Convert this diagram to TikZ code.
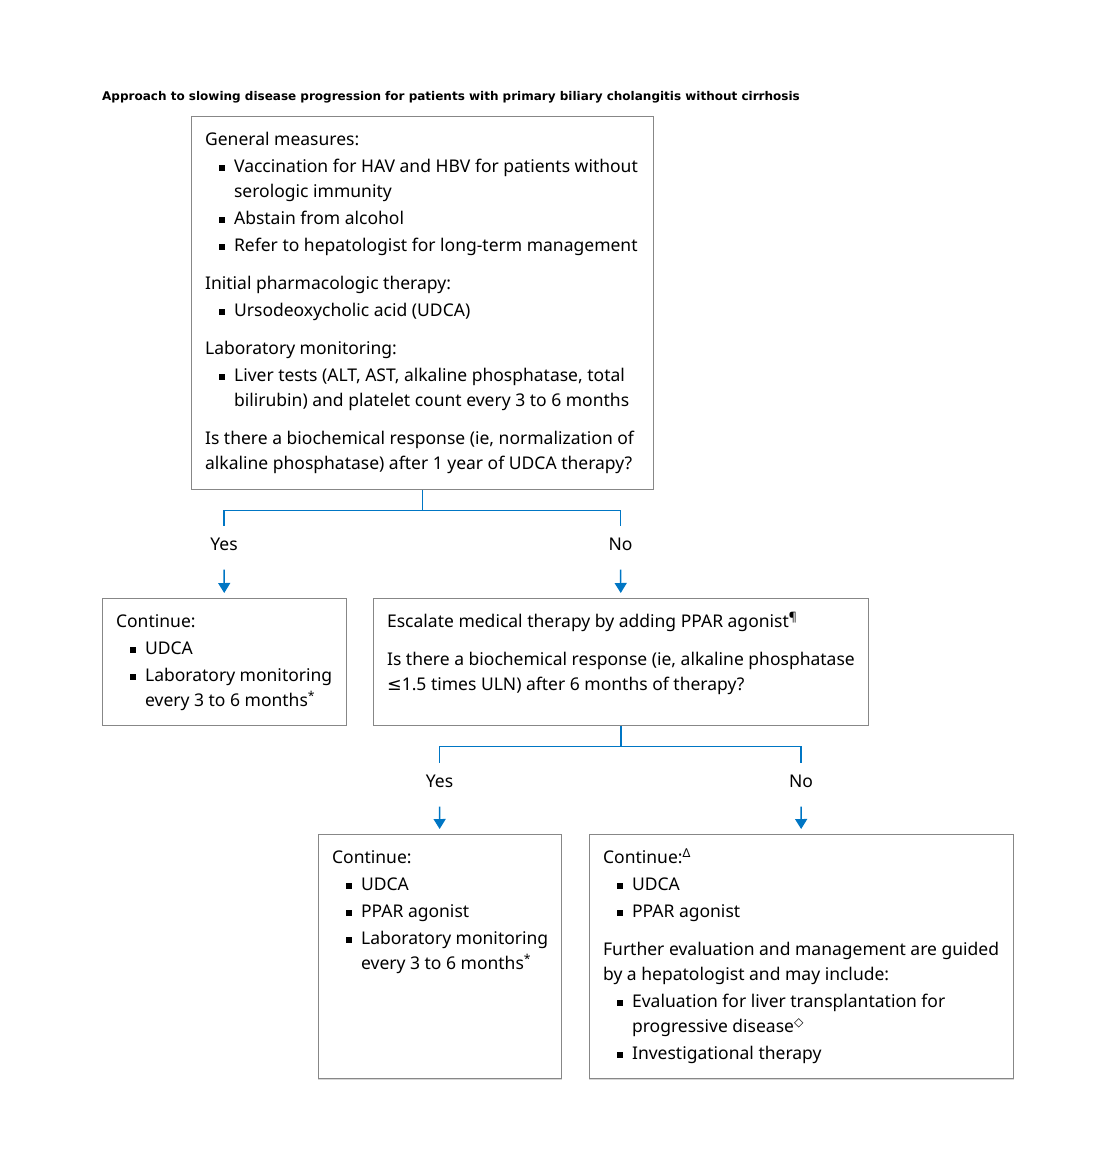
\documentclass[tikz,border=0pt]{standalone}
\usepackage{fontspec}
\setmainfont{Noto Sans}
\newfontfamily\titlefont{DejaVu Sans}
\newfontfamily\symfont{DejaVu Sans}
\usetikzlibrary{arrows.meta}

\definecolor{flowblue}{RGB}{0,118,196}
\definecolor{boxgray}{RGB}{135,135,135}
\definecolor{edgegray}{RGB}{215,215,215}

% bullet item, section gap, top-aligned box text
\newcommand{\bul}{\par\noindent\hangindent=29pt\hangafter=1\hspace*{14pt}\makebox[15pt][l]{\rule[2pt]{6pt}{6pt}}}
\newcommand{\sect}{\par\vspace{11pt}\noindent}
\newcommand{\boxtext}[3]{\makebox[#1][l]{\parbox[c][#2][t]{\dimexpr#1+40pt\relax}{\raggedright\setlength{\parskip}{2pt}\rule{0pt}{29pt}#3}}}

\begin{document}
\begin{tikzpicture}[x=1pt,y=-1pt,
    box/.style={draw=boxgray, line width=1.2pt, anchor=north west, inner xsep=13.5pt, inner ysep=0pt,
      font=\fontsize{17.5pt}{25pt}\selectfont},
    lab/.style={font=\fontsize{17.5pt}{25pt}\selectfont, text height=12pt, text depth=3pt, inner xsep=0pt, inner ysep=12pt},
    link/.style={draw=flowblue, line width=1.4pt},
    arr/.style={link, -{Triangle[length=10pt,width=12pt]}, shorten <=4pt, shorten >=5pt}]
  \useasboundingbox (0,0) rectangle (1104,1153);
  % title
  \node[anchor=base west, inner sep=0pt, font=\titlefont\bfseries\fontsize{12pt}{14pt}\selectfont] (title) at (102,100.5)
    {Approach to slowing disease progression for patients with primary biliary cholangitis without cirrhosis};
  % boxes
  \node[box] (general) at (191,116) {\boxtext{435pt}{373pt}{General measures:
    \bul Vaccination for HAV and HBV for patients without\newline serologic immunity
    \bul Abstain from alcohol
    \bul Refer to hepatologist for long-term management
    \sect Initial pharmacologic therapy:
    \bul Ursodeoxycholic acid (UDCA)
    \sect Laboratory monitoring:
    \bul Liver tests (ALT, AST, alkaline phosphatase, total\newline bilirubin) and platelet count every 3 to 6 months
    \sect Is there a biochemical response (ie, normalization of\newline alkaline phosphatase) after 1 year of UDCA therapy?}};
  \node[box] (contA) at (102,598) {\boxtext{217pt}{127pt}{Continue:
    \bul UDCA
    \bul Laboratory monitoring\newline every 3 to 6 months\textsuperscript{*}}};
  \node[box] (escalate) at (373,598) {\boxtext{468pt}{127pt}{Escalate medical therapy by adding PPAR agonist\textsuperscript{¶}
    \sect Is there a biochemical response (ie, alkaline phosphatase\newline {\symfont ≤}1.5 times ULN) after 6 months of therapy?}};
  \node[box] (contB) at (318,834) {\boxtext{216pt}{244pt}{Continue:
    \bul UDCA
    \bul PPAR agonist
    \bul Laboratory monitoring\newline every 3 to 6 months\textsuperscript{*}}};
  \node[box] (contC) at (589,834) {\boxtext{397pt}{244pt}{Continue:\textsuperscript{Δ}
    \bul UDCA
    \bul PPAR agonist
    \sect Further evaluation and management are guided\newline by a hepatologist and may include:
    \bul Evaluation for liver transplantation for\newline progressive disease\textsuperscript{\symfont\bfseries ◇}
    \bul Investigational therapy}};
  % lighter bottom edges
  \draw[edgegray, line width=1.2pt] (contB.south west) -- (contB.south east);
  \draw[edgegray, line width=1.2pt] (contC.south west) -- (contC.south east);
  % labels
  \node[lab] (yesA) at (224,546) {Yes};
  \node[lab] (noA) at (620.5,546) {No};
  \node[lab] (yesB) at (439.5,783) {Yes};
  \node[lab] (noB) at (801,783) {No};
  % connectors
  \draw[link] (general.south) -- ++(0,20) -| (yesA.north);
  \draw[link] (general.south) -- ++(0,20) -| (noA.north);
  \draw[arr] (yesA) -- (contA);
  \draw[arr] (noA) -- (escalate);
  \draw[link] (escalate.south) -- ++(0,20) -| (yesB.north);
  \draw[link] (escalate.south) -- ++(0,20) -| (noB.north);
  \draw[arr] (yesB) -- (contB);
  \draw[arr] (noB) -- (contC);
\end{tikzpicture}
\end{document}
